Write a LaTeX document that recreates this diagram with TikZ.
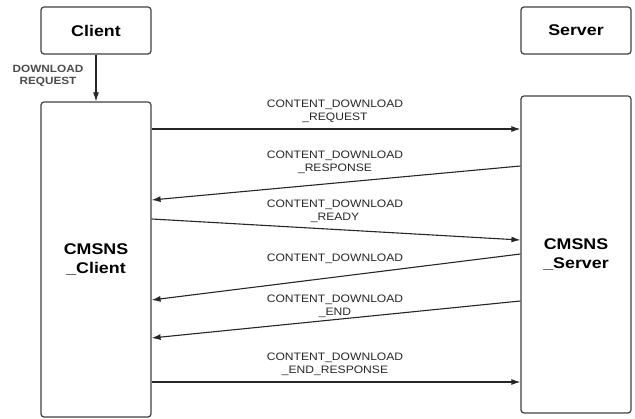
\documentclass[tikz,border=0pt]{standalone}
\usepackage{fontspec}
\setmainfont{Liberation Sans}
\newfontfamily\boxfont[FakeStretch=1.15]{Liberation Sans}
\newfontfamily\lblfont[FakeStretch=1.12]{Liberation Sans}
\usetikzlibrary{arrows.meta,calc}
\tikzset{
  box/.style={draw=black!75, line width=1.2pt, rounded corners=3pt, minimum width=110pt, inner sep=0pt, font=\boxfont\fontsize{15.5}{19}\selectfont\bfseries, align=center},
  msg/.style={draw=black!85, line width=1.1pt, -{Latex[length=9pt,width=6pt]}},
  lbl/.style={font=\lblfont\fontsize{10.8}{13}\selectfont, align=center, inner sep=0pt, text=black!85}
}
\begin{document}
\begin{tikzpicture}[x=1pt,y=-1pt]
\useasboundingbox (0,0) rectangle (635,419);
\node[box, minimum height=47pt] (client) at (96,30.5) {Client};
\node[box, minimum height=47pt] (server) at (576,30.5) {Server};
\node[box, minimum height=315pt] (cc) at (96,259.5) {CMSNS\\\_Client};
\node[box, minimum height=317pt] (cs) at (576,254.5) {CMSNS\\\_Server};

\draw[msg] (client) -- (cc);
\node[lbl, font=\lblfont\fontsize{10.5}{12}\selectfont\bfseries, text=black!70] (dl) at (48,76) {DOWNLOAD\\REQUEST};

\path (cc.east |- 0,129) coordinate (c1);
\path (cs.west |- 0,129) coordinate (s1);
\path (cs.west |- 0,166) coordinate (s2);
\path (cc.east |- 0,200) coordinate (c2);
\path (cc.east |- 0,219) coordinate (c3);
\path (cs.west |- 0,240) coordinate (s3);
\path (cs.west |- 0,254) coordinate (s4);
\path (cc.east |- 0,300) coordinate (c4);
\path (cs.west |- 0,301) coordinate (s5);
\path (cc.east |- 0,338) coordinate (c5);
\path (cc.east |- 0,382) coordinate (c6);
\path (cs.west |- 0,382) coordinate (s6);

\draw[msg] (c1) -- (s1);
\draw[msg] (s2) -- (c2);
\draw[msg] (c3) -- (s3);
\draw[msg] (s4) -- (c4);
\draw[msg] (s5) -- (c5);
\draw[msg] (c6) -- (s6);

\node[lbl] (l1) at (335,111.5) {CONTENT\_DOWNLOAD\\\_REQUEST};
\node[lbl] (l2) at (335,162) {CONTENT\_DOWNLOAD\\\_RESPONSE};
\node[lbl] (l3) at (335,211.5) {CONTENT\_DOWNLOAD\\\_READY};
\node[lbl] (l4) at (335,259) {CONTENT\_DOWNLOAD};
\node[lbl] (l5) at (335,306) {CONTENT\_DOWNLOAD\\\_END};
\node[lbl] (l6) at (335,364.5) {CONTENT\_DOWNLOAD\\\_END\_RESPONSE};
\end{tikzpicture}
\end{document}
